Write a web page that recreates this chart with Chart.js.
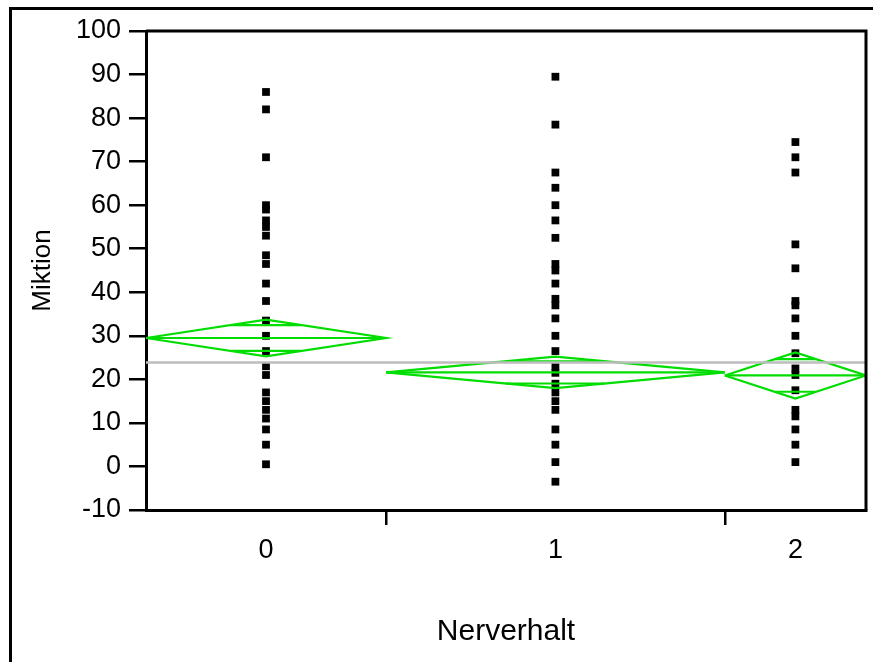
<!DOCTYPE html>
<html lang="de">
<head>
  <meta charset="UTF-8">
  <title>Miktion nach Nerverhalt</title>
  <script src="https://cdn.jsdelivr.net/npm/chart.js"></script>
  <style>
    body { margin: 0; background: #fff; }
    #wrap { width: 873px; height: 662px; }
  </style>
</head>
<body>
  <div id="wrap"><canvas id="chart"></canvas></div>
  <script>
    // Gruppen (Nerverhalt) und Anzahl pro Gruppe (bestimmt die Breite)
    var groups = ['0', '1', '2'];
    var counts = [34, 48, 20];

    // Miktion-Werte je Gruppe
    var values0 = [86, 82, 71, 60, 59, 56.5, 55, 53, 48.5, 46.5, 42, 38, 33.5, 30, 26.5, 23, 21, 17, 15, 13, 11, 8.5, 5, 0.5];
    var values1 = [89.5, 78.5, 67.5, 64, 60, 56.5, 52.5, 46.5, 45, 42, 38.5, 37, 34, 30, 26.5, 23, 21.5, 19, 17, 15, 13, 8.5, 5, 1, -3.5];
    var values2 = [74.5, 71, 67.5, 51, 45.5, 38, 37, 34, 30, 26, 22.5, 21, 17.5, 13, 11.5, 8.5, 5, 1];

    // Mittelwert-Rauten: Mittelwert und halbe Breite des 95%-KI
    var means = [29.5, 21.6, 20.9];
    var ciHalf = [4.2, 3.6, 5.3];
    var grandMean = 23.9;

    var yTicks = [-10, 0, 10, 20, 30, 40, 50, 60, 70, 80, 90, 100];

    var green = '#00dd00';
    var allValues = [values0, values1, values2];
    var total = counts.reduce(function (a, b) { return a + b; }, 0);

    var starts = [], centers = [], bounds = [];
    var acc = 0;
    counts.forEach(function (c, i) {
      starts.push(acc);
      centers.push(acc + c / 2);
      acc += c;
      if (i < counts.length - 1) bounds.push(acc);
    });

    var datasets = [];

    // Gesamtmittelwert
    datasets.push({
      data: [{ x: 0, y: grandMean }, { x: total, y: grandMean }],
      showLine: true, borderColor: '#bdbdbd', borderWidth: 2.5, pointRadius: 0
    });

    function seg(points) {
      datasets.push({
        data: points, showLine: true, borderColor: green, borderWidth: 2.2,
        pointRadius: 0, tension: 0
      });
    }

    counts.forEach(function (c, i) {
      var l = starts[i], r = starts[i] + c, m = centers[i];
      var mu = means[i], h = ciHalf[i];
      seg([{ x: l, y: mu }, { x: m, y: mu + h }, { x: r, y: mu }, { x: m, y: mu - h }, { x: l, y: mu }]);
      seg([{ x: l, y: mu }, { x: r, y: mu }]);
      var oh = h / Math.SQRT2;
      var ow = (1 - 1 / Math.SQRT2) * c / 2;
      seg([{ x: m - ow, y: mu + oh }, { x: m + ow, y: mu + oh }]);
      seg([{ x: m - ow, y: mu - oh }, { x: m + ow, y: mu - oh }]);
    });

    allValues.forEach(function (vals, i) {
      datasets.push({
        data: vals.map(function (v) { return { x: centers[i], y: v }; }),
        pointStyle: 'rect', pointRadius: 5.5, pointBorderWidth: 0,
        backgroundColor: '#000', borderColor: '#000', showLine: false
      });
    });

    var framePlugin = {
      id: 'frame',
      beforeDraw: function (chart) {
        var ctx = chart.ctx;
        ctx.save();
        ctx.fillStyle = '#fff';
        ctx.fillRect(0, 0, chart.width, chart.height);
        ctx.strokeStyle = '#000';
        ctx.lineWidth = 3;
        ctx.beginPath();
        ctx.moveTo(10.5, chart.height);
        ctx.lineTo(10.5, 8.5);
        ctx.lineTo(chart.width, 8.5);
        ctx.stroke();
        ctx.restore();
      },
      afterDraw: function (chart) {
        var a = chart.chartArea, ctx = chart.ctx;
        ctx.save();
        ctx.strokeStyle = '#000';
        ctx.lineWidth = 3;
        ctx.beginPath();
        ctx.moveTo(a.left, a.top);
        ctx.lineTo(a.right, a.top);
        ctx.lineTo(a.right, a.bottom);
        ctx.stroke();
        ctx.restore();
      }
    };

    var family = 'Liberation Sans, Arial, sans-serif';
    var tickFont = { family: family, size: 27 };

    new Chart(document.getElementById('chart'), {
      type: 'scatter',
      data: { datasets: datasets },
      plugins: [framePlugin],
      options: {
        responsive: true,
        maintainAspectRatio: false,
        animation: false,
        events: [],
        layout: { padding: { left: 0, top: 31, right: 7, bottom: 0 } },
        plugins: { legend: { display: false }, tooltip: { enabled: false } },
        scales: {
          x: {
            type: 'linear', min: 0, max: total,
            afterBuildTicks: function (scale) {
              var vals = centers.concat(bounds).sort(function (a, b) { return a - b; });
              scale.ticks = vals.map(function (v) { return { value: v }; });
            },
            afterFit: function (scale) { scale.height = 152; },
            ticks: {
              autoSkip: false, maxRotation: 0, color: '#000', font: tickFont, padding: 9,
              callback: function (v) {
                var k = centers.indexOf(v);
                return k >= 0 ? groups[k] : '';
              }
            },
            grid: {
              drawOnChartArea: false, tickLength: 15, lineWidth: 2.5,
              tickColor: function (ctx) {
                return ctx.tick && centers.indexOf(ctx.tick.value) < 0 ? '#000' : 'rgba(0,0,0,0)';
              }
            },
            border: { color: '#000', width: 3 },
            title: {
              display: true, text: 'Nerverhalt', color: '#000', font: { family: family, size: 30 },
              padding: { top: 0, bottom: 12 }
            }
          },
          y: {
            min: -10, max: 100,
            afterBuildTicks: function (scale) {
              scale.ticks = yTicks.map(function (v) { return { value: v }; });
            },
            afterFit: function (scale) { scale.width = 146; },
            ticks: { color: '#000', font: tickFont, padding: 8 },
            grid: { drawOnChartArea: false, tickLength: 17, lineWidth: 2.5, tickColor: '#000' },
            border: { color: '#000', width: 3 },
            title: {
              display: true, text: 'Miktion', color: '#000', font: { family: family, size: 26 },
              padding: { top: 27, bottom: 0 }
            }
          }
        }
      }
    });
  </script>
</body>
</html>
